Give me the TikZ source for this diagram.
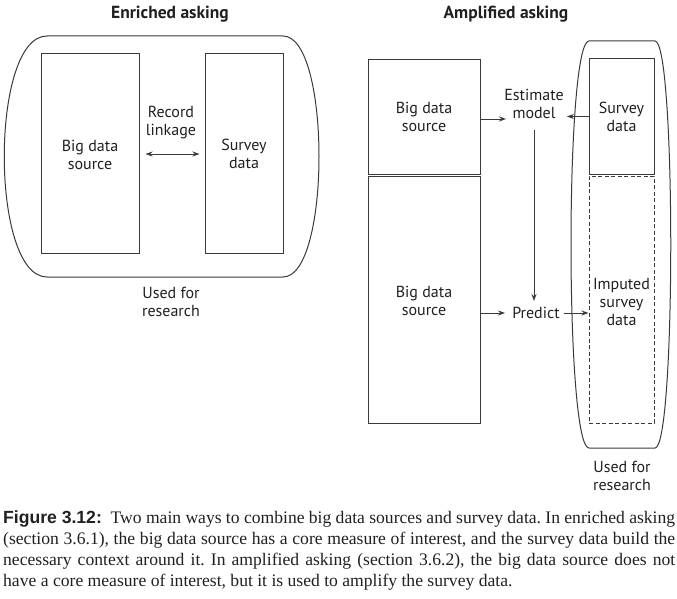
\documentclass[tikz,border=0pt]{standalone}
\usepackage{fontspec}
\setmainfont{Liberation Serif}
\newfontfamily\labf{PT Sans}
\newfontfamily\figf{Liberation Sans}
\usetikzlibrary{arrows.meta}
\definecolor{ink}{HTML}{231F20}
\definecolor{lin}{HTML}{3A3A3A}
\tikzset{
  box/.style={draw=lin, line width=1pt, inner sep=0pt},
  dbox/.style={draw=lin, line width=1pt, inner sep=0pt, dash pattern=on 4pt off 2.5pt},
  lab/.style={text=ink, font=\labf\fontsize{16}{18}\selectfont, align=center, inner sep=1pt},
  ttl/.style={text=ink, font=\labf\bfseries\fontsize{17.5}{20}\selectfont, inner sep=0pt},
  arr/.style={draw=lin, line width=0.9pt, -{Stealth[length=7pt,width=5pt]}},
  dblarr/.style={draw=lin, line width=0.9pt, {Stealth[length=7pt,width=5pt]}-{Stealth[length=7pt,width=5pt]}},
  shell/.style={draw=lin, line width=1pt}
}
\begin{document}
\begin{tikzpicture}[x=1pt,y=-1pt]
\useasboundingbox (0,0) rectangle (677,599);
% titles
\node[ttl] (t1) at (170,14) {Enriched asking};
\node[ttl] (t2) at (506,14) {Amplified asking};
% left outer shell
\draw[shell] (47,36) -- (283,36) .. controls (331,36) and (331,277) .. (283,277) -- (47,277) .. controls (-10,277) and (-10,36) .. (47,36) -- cycle;
% left boxes
\node[box, minimum width=98pt, minimum height=199pt] (bdL) at (90,153.5) {};
\node[lab] at (90,155) {Big data\\source};
\node[box, minimum width=78pt, minimum height=199pt] (svL) at (244,153.5) {};
\node[lab] at (244,153.5) {Survey\\data};
\node[lab] (rl) at (171,123) {Record\\linkage};
\draw[dblarr] ([xshift=6pt,yshift=-0.5pt]bdL.east) -- ([xshift=-5pt,yshift=-0.5pt]svL.west);
\node[lab] (u1) at (171,302) {Used for\\research};
% right outer shell
\draw[shell] (589,41) -- (655,41) .. controls (676,41) and (676,448) .. (655,448) -- (589,448) .. controls (565,448) and (565,41) .. (589,41) -- cycle;
% right boxes
\node[box, minimum width=112pt, minimum height=114pt] (bd1) at (424,117) {};
\node[lab] at (424,117) {Big data\\source};
\node[box, minimum width=112pt, minimum height=247pt] (bd2) at (424,299.5) {};
\node[lab] at (424,301) {Big data\\source};
\node[box, minimum width=65pt, minimum height=115pt] (sv2) at (621.5,116.5) {};
\node[lab] at (621.5,117) {Survey\\data};
\node[dbox, minimum width=65pt, minimum height=247pt] (imp) at (621.5,299.5) {};
\node[lab] at (621.5,302) {Imputed\\survey\\data};
\node[lab] (est) at (534,104) {Estimate\\model};
\node[lab] (pred) at (536,313) {Predict};
\coordinate (e1) at (506,119);
\draw[arr] (bd1.east |- e1) -- (e1);
\draw[arr] (sv2.west) -- ([xshift=2pt]est.east |- sv2.west);
\draw[arr] ([yshift=-10pt]est.south) -- ([yshift=5pt]est.south |- pred.north);
\draw[arr] (bd2.east |- pred.west) -- ([xshift=-6pt]pred.west);
\draw[arr] ([xshift=3pt]pred.east) -- (imp.west |- pred.east);
\node[lab] (u2) at (622,476) {Used for\\research};
% caption
\node[anchor=north west, inner sep=0pt, text width=672pt, align=justify, text=ink, font=\frenchspacing\fontsize{17.6}{20.7}\selectfont] (cap) at (3,511)
{{\figf\bfseries Figure 3.12:}\enspace Two main ways to combine big data sources and survey data. In enriched asking\linebreak
(section 3.6.1), the big data source has a core measure of interest, and the survey data build the\linebreak
necessary context around it. In amplified asking (section 3.6.2), the big data source does not\linebreak
have a core measure of interest, but it is used to amplify the survey data.};
\end{tikzpicture}
\end{document}
